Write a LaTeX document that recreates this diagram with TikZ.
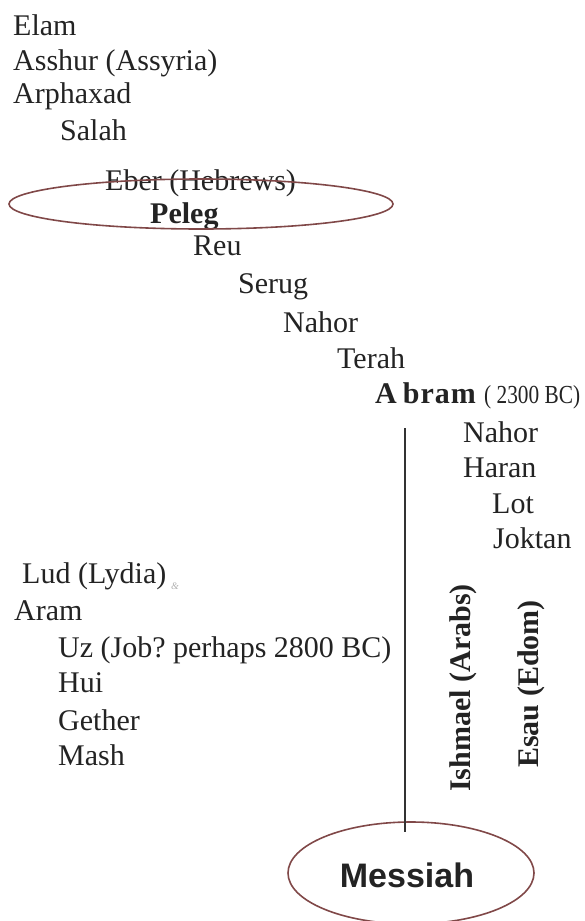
\documentclass[tikz,border=0pt]{standalone}
\usepackage{fontspec}
\setmainfont{Liberation Serif}
\newfontfamily\messiahfont{Liberation Sans}
\newfontfamily\narrowserif[FakeStretch=0.82]{Liberation Serif}
\frenchspacing
\definecolor{ringred}{RGB}{128,72,72}
\definecolor{ink}{RGB}{35,35,35}
\begin{document}
\begin{tikzpicture}[x=1pt,y=-1pt,
  gname/.style={anchor=base west,inner sep=0pt,text=ink,font=\fontsize{30}{30}\selectfont},
  gbold/.style={gname,font=\fontsize{30}{30}\selectfont\bfseries},
  side/.style={inner sep=0pt,text=ink,rotate=90,font=\fontsize{30}{30}\selectfont\bfseries},
  ring/.style={draw=ringred,line width=1.6pt},
  lineage/.style={draw=black!80,line width=2.4pt}]
\useasboundingbox (0,0) rectangle (585,921);
\node[gname] (elam) at (13,35) {Elam};
\node[gname] (asshur) at (13,70) {Asshur (Assyria)};
\node[gname] (arphaxad) at (13,103) {Arphaxad};
\node[gname] (salah) at (60,140) {Salah};
\node[gname] (eber) at (105,190) {Eber (Hebrews)};
\node[gbold] (peleg) at (150,223) {Peleg};
\node[gname] (reu) at (193,255) {Reu};
\node[gname] (serug) at (238,293) {Serug};
\node[gname] (nahorA) at (283,332) {Nahor};
\node[gname] (terah) at (337,368) {Terah};
\node[gbold] (abram) at (375,403) {A\kern6pt b\kern1pt r\kern1pt a\kern1pt m};
\node[gname,font=\narrowserif\fontsize{26}{26}\selectfont] (abramdate) at (484,403) {( 2300 BC)};
\node[gname] (nahorB) at (463,442) {Nahor};
\node[gname] (haran) at (463,477) {Haran};
\node[gname] (lot) at (492,513) {Lot};
\node[gname] (joktan) at (493,548) {Joktan};
\node[gname] (lud) at (22,583) {Lud (Lydia)};
\node[gname,text=black!30,font=\fontsize{10}{10}\selectfont\itshape] (ludmark) at (171,589) {\&};
\node[gname] (aram) at (14,620) {Aram};
\node[gname] (uz) at (58,657) {Uz (Job? perhaps 2800 BC)};
\node[gname] (hui) at (58,692) {Hui};
\node[gname] (gether) at (58,730) {Gether};
\node[gname] (mash) at (58,765) {Mash};
\node[side] (ishmael) at (463,688) {Ishmael (Arabs)};
\node[side] (esau) at (531,684) {Esau (Edom)};
\draw[ring] (201,204) ellipse [x radius=192, y radius=25];
\draw[ring] (411,873) ellipse [x radius=123, y radius=51];
\node[inner sep=0pt,text=ink,font=\messiahfont\fontsize{34}{34}\selectfont\bfseries] (messiah) at (407,875) {Messiah};
\coordinate (linetop) at (405,428);
\coordinate (linebot) at (405,832);
\draw[lineage] (linetop) -- (linebot);
\end{tikzpicture}
\end{document}
